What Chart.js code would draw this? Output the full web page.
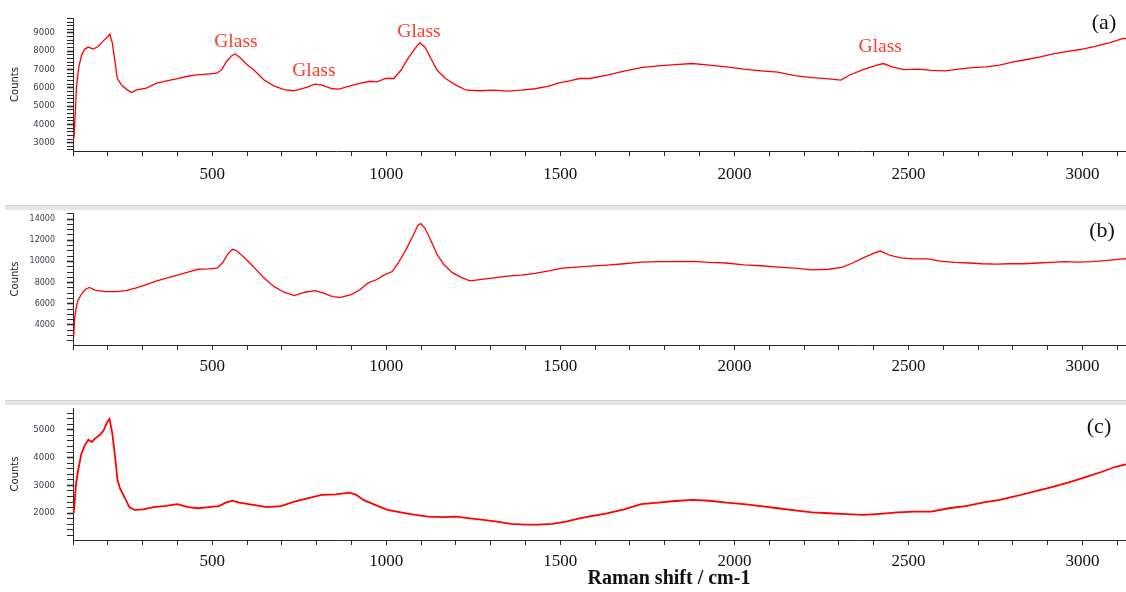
<!DOCTYPE html>
<html>
<head>
<meta charset="utf-8">
<script src="https://cdn.jsdelivr.net/npm/chart.js@4/dist/chart.umd.min.js"></script>
<style>
  html, body { margin: 0; padding: 0; background: #fff; }
  #wrap { position: relative; width: 1126px; height: 592px; overflow: hidden; background: #fff; }
  .panel { position: absolute; left: 0; width: 1126px; }
  .sep { position: absolute; left: 5px; width: 1121px; height: 4px; background: #e6e6e6; border-top: 1px solid #d3d3d3; }
</style>
</head>
<body>
<div id="wrap">
  <div class="panel" style="top:0;height:200px"><canvas id="chartA"></canvas></div>
  <div class="sep" style="top:205px"></div>
  <div class="panel" style="top:195px;height:195px"><canvas id="chartB"></canvas></div>
  <div class="sep" style="top:400px"></div>
  <div class="panel" style="top:390px;height:202px"><canvas id="chartC"></canvas></div>
</div>
<script>
// Raman shift range shown on every panel (cm-1)
const shiftMin = 100;
const shiftMax = 3125;

// Spectrum (a)
const shiftA = [101, 103, 107, 110, 117, 125, 134, 144, 158, 172, 186, 201, 206, 213, 220, 227, 239, 253, 268, 282,
  311, 340, 369, 397, 426, 455, 484, 513, 527, 541, 556, 566, 581, 600, 619, 648, 677, 706, 734, 771,
  795, 815, 845, 864, 894, 924, 953, 973, 998, 1022, 1042, 1062, 1082, 1096, 1111, 1126, 1146, 1170, 1200, 1230,
  1269, 1309, 1348, 1388, 1427, 1467, 1496, 1526, 1555, 1585, 1634, 1683, 1732, 1781, 1830, 1879, 1928, 1977, 2027, 2076,
  2125, 2174, 2223, 2272, 2306, 2330, 2370, 2409, 2428, 2453, 2487, 2527, 2566, 2605, 2644, 2683, 2723, 2762, 2801, 2840,
  2879, 2919, 2958, 2997, 3036, 3076, 3115, 3125];
const countsA = [3150, 3330, 4800, 6070, 7170, 7810, 8120, 8230, 8120, 8260, 8540, 8810, 8940, 8450, 7540, 6530, 6160, 5930, 5740, 5890,
  5980, 6260, 6380, 6490, 6620, 6710, 6750, 6800, 6990, 7440, 7760, 7850, 7630, 7260, 6990, 6440, 6110, 5900, 5840, 6020,
  6200, 6150, 5950, 5930, 6090, 6240, 6360, 6330, 6510, 6510, 6960, 7600, 8150, 8460, 8240, 7690, 6960, 6510, 6150, 5870,
  5840, 5870, 5820, 5870, 5950, 6090, 6270, 6380, 6510, 6510, 6690, 6910, 7110, 7200, 7270, 7330, 7240, 7150, 7020, 6930,
  6860, 6670, 6560, 6490, 6420, 6690, 7000, 7240, 7330, 7150, 7000, 7020, 6960, 6930, 7020, 7110, 7150, 7240, 7420, 7550,
  7690, 7870, 8000, 8110, 8270, 8460, 8690, 8700];

// Spectrum (b)
const shiftB = [102, 105, 109, 114, 124, 135, 147, 163, 193, 223, 252, 282, 312, 341, 371, 400, 430, 460, 489, 514,
  529, 544, 558, 568, 588, 608, 627, 647, 677, 706, 736, 766, 795, 820, 845, 869, 899, 924, 948, 973,
  993, 1017, 1037, 1057, 1077, 1091, 1099, 1111, 1126, 1146, 1166, 1190, 1215, 1240, 1269, 1309, 1348, 1388, 1427, 1467,
  1506, 1546, 1585, 1634, 1683, 1732, 1781, 1830, 1879, 1928, 1977, 2027, 2076, 2125, 2174, 2223, 2272, 2311, 2340, 2370,
  2399, 2419, 2448, 2478, 2517, 2556, 2595, 2634, 2674, 2713, 2752, 2791, 2830, 2870, 2909, 2948, 2987, 3026, 3066, 3115,
  3125];
const countsB = [2900, 4700, 5600, 6300, 6900, 7350, 7550, 7300, 7150, 7150, 7250, 7510, 7840, 8160, 8450, 8710, 9000, 9260, 9300, 9360,
  9850, 10660, 11140, 11050, 10490, 9850, 9200, 8490, 7640, 7090, 6770, 7090, 7250, 7000, 6670, 6610, 6870, 7320, 7970, 8290,
  8710, 9040, 10010, 11140, 12440, 13410, 13570, 13150, 12110, 10660, 9680, 8940, 8490, 8160, 8290, 8450, 8620, 8710, 8870, 9100,
  9360, 9460, 9550, 9650, 9780, 9940, 9980, 9980, 10010, 9910, 9850, 9680, 9590, 9460, 9360, 9200, 9260, 9460, 9850, 10330,
  10750, 10980, 10560, 10330, 10240, 10240, 10010, 9910, 9850, 9780, 9750, 9780, 9780, 9850, 9910, 9980, 9940, 9980, 10070, 10240,
  10250];

// Spectrum (c)
const shiftC = [102, 109, 114, 124, 134, 144, 154, 163, 178, 188, 198, 205, 213, 221, 228, 235, 247, 262, 277, 302,
  331, 361, 400, 430, 460, 489, 519, 539, 558, 578, 618, 657, 697, 736, 776, 815, 855, 894, 914, 934,
  963, 1003, 1042, 1082, 1121, 1161, 1200, 1240, 1279, 1318, 1358, 1398, 1437, 1477, 1516, 1555, 1585, 1634, 1683, 1732,
  1781, 1830, 1879, 1928, 1977, 2027, 2076, 2125, 2174, 2223, 2272, 2321, 2370, 2419, 2468, 2517, 2566, 2615, 2664, 2713,
  2762, 2811, 2860, 2909, 2958, 3007, 3056, 3095, 3125];
const countsC = [2000, 3070, 3490, 4140, 4440, 4640, 4560, 4680, 4820, 4980, 5270, 5390, 4860, 4020, 3190, 2890, 2600, 2220, 2120, 2140,
  2220, 2260, 2330, 2220, 2180, 2220, 2260, 2380, 2450, 2380, 2300, 2220, 2260, 2420, 2540, 2660, 2680, 2740, 2660, 2480,
  2330, 2120, 2030, 1940, 1880, 1860, 1880, 1820, 1760, 1700, 1620, 1590, 1590, 1620, 1700, 1820, 1890, 2000, 2140, 2330,
  2380, 2440, 2480, 2450, 2380, 2330, 2260, 2180, 2100, 2030, 2000, 1970, 1940, 1980, 2030, 2060, 2060, 2180, 2260, 2380,
  2480, 2620, 2780, 2930, 3100, 3290, 3490, 3670, 3760];

// Labelled ticks
const xTickLabels = [500, 1000, 1500, 2000, 2500, 3000];
const yTickLabelsA = [3000, 4000, 5000, 6000, 7000, 8000, 9000];
const yTickLabelsB = [4000, 6000, 8000, 10000, 12000, 14000];
const yTickLabelsC = [2000, 3000, 4000, 5000];

// Peak labels on spectrum (a): position in (shift, counts)
const glassNotes = [
  { text: 'Glass', x: 568, y: 8250 },
  { text: 'Glass', x: 792, y: 6660 },
  { text: 'Glass', x: 1094, y: 8800 },
  { text: 'Glass', x: 2419, y: 7940 }
];

const AXIS_COLOR = '#2a2a2a';
const LABEL_COLOR = '#36404f';

// Tick marks at every multiple of `step` inside [min, max]
function tickMarks(min, max, step) {
  const out = [];
  for (let v = Math.ceil(min / step) * step; v <= max; v += step) out.push({ value: v });
  return out;
}

const annotate = {
  id: 'annotate',
  afterDatasetsDraw(chart, args, opts) {
    const { ctx, chartArea } = chart;
    const xs = chart.scales.x, ys = chart.scales.y;
    ctx.save();
    ctx.textAlign = 'center';
    ctx.textBaseline = 'alphabetic';
    (opts.notes || []).forEach(n => {
      ctx.font = '19.5px "Liberation Serif", "Times New Roman", serif';
      ctx.fillStyle = '#ff3a2c';
      ctx.fillText(n.text, xs.getPixelForValue(n.x), ys.getPixelForValue(n.y));
    });
    if (opts.tag) {
      ctx.font = '22px "Liberation Serif", "Times New Roman", serif';
      ctx.fillStyle = '#111';
      ctx.fillText(opts.tag, chartArea.right - opts.tagDx, chartArea.top + opts.tagDy);
    }
    if (opts.xTitle) {
      ctx.font = 'bold 20px "Liberation Serif", "Times New Roman", serif';
      ctx.fillStyle = '#111';
      ctx.fillText(opts.xTitle, opts.xTitleX, opts.xTitleY);
    }
    ctx.restore();
  }
};

function makePanel(id, shifts, counts, cfg) {
  const points = shifts.map((s, i) => ({ x: s, y: counts[i] }));
  return new Chart(document.getElementById(id), {
    type: 'line',
    data: {
      datasets: [{
        data: points,
        borderColor: '#ff0000',
        borderWidth: cfg.lineWidth,
        pointRadius: 0,
        tension: 0,
        fill: false
      }]
    },
    options: {
      responsive: true,
      maintainAspectRatio: false,
      animation: false,
      events: [],
      layout: { padding: { top: cfg.padTop, left: 0, right: 0, bottom: 0 } },
      plugins: {
        legend: { display: false },
        tooltip: { enabled: false },
        annotate: {
          notes: cfg.notes || [], tag: cfg.tag, tagDx: cfg.tagDx, tagDy: cfg.tagDy,
          xTitle: cfg.xTitle, xTitleX: cfg.xTitleX, xTitleY: cfg.xTitleY
        }
      },
      scales: {
        x: {
          type: 'linear',
          min: shiftMin,
          max: shiftMax,
          afterBuildTicks(s) { s.ticks = tickMarks(shiftMin, shiftMax, 100); },
          afterFit(s) { s.height = cfg.xAxisHeight; s.paddingLeft = 0; s.paddingRight = 0; },
          border: { display: true, color: AXIS_COLOR, width: 1 },
          grid: { drawOnChartArea: false, drawTicks: true, tickLength: 5, tickColor: AXIS_COLOR, tickWidth: 1 },
          ticks: {
            autoSkip: false,
            maxRotation: 0,
            padding: cfg.xPad,
            color: '#111',
            font: { family: '"Liberation Serif", "Times New Roman", serif', size: 17 },
            callback: v => xTickLabels.includes(v) ? String(v) : ''
          }
        },
        y: {
          type: 'linear',
          min: cfg.yMin,
          max: cfg.yMax,
          afterBuildTicks(s) { s.ticks = tickMarks(cfg.yMin, cfg.yMax, cfg.yStep); },
          afterFit(s) { s.width = 73; s.paddingTop = 0; s.paddingBottom = 0; },
          border: { display: true, color: AXIS_COLOR, width: 1 },
          grid: {
            drawOnChartArea: false, drawTicks: true, tickLength: 6, tickColor: AXIS_COLOR,
            tickWidth: ctx => (ctx.tick && cfg.yLabels.includes(ctx.tick.value)) ? 1.6 : 1
          },
          title: {
            display: true,
            text: 'Counts',
            color: '#222',
            padding: { top: 9, bottom: 0 },
            font: { family: '"DejaVu Sans", sans-serif', size: 10 }
          },
          ticks: {
            autoSkip: false,
            padding: 12,
            color: LABEL_COLOR,
            font: { family: '"DejaVu Sans", sans-serif', size: cfg.yFont },
            callback: v => cfg.yLabels.includes(v) ? String(v) : ''
          }
        }
      }
    },
    plugins: [annotate]
  });
}

makePanel('chartA', shiftA, countsA, {
  yMin: 2545, yMax: 9820, yStep: 200, yLabels: yTickLabelsA, yFont: 8.5,
  padTop: 18, xAxisHeight: 49, xPad: 8, lineWidth: 1.3,
  notes: glassNotes, tag: '(a)', tagDx: 22, tagDy: 10.5
});

makePanel('chartB', shiftB, countsB, {
  yMin: 2110, yMax: 14570, yStep: 500, yLabels: yTickLabelsB, yFont: 8,
  padTop: 18, xAxisHeight: 45, xPad: 6, lineWidth: 1.3,
  tag: '(b)', tagDx: 24, tagDy: 24
});

makePanel('chartC', shiftC, countsC, {
  yMin: 1040, yMax: 5780, yStep: 200, yLabels: yTickLabelsC, yFont: 8.5,
  padTop: 18, xAxisHeight: 52, xPad: 6, lineWidth: 1.8,
  tag: '(c)', tagDx: 27, tagDy: 25,
  xTitle: 'Raman shift / cm-1', xTitleX: 669, xTitleY: 194
});
</script>
</body>
</html>
